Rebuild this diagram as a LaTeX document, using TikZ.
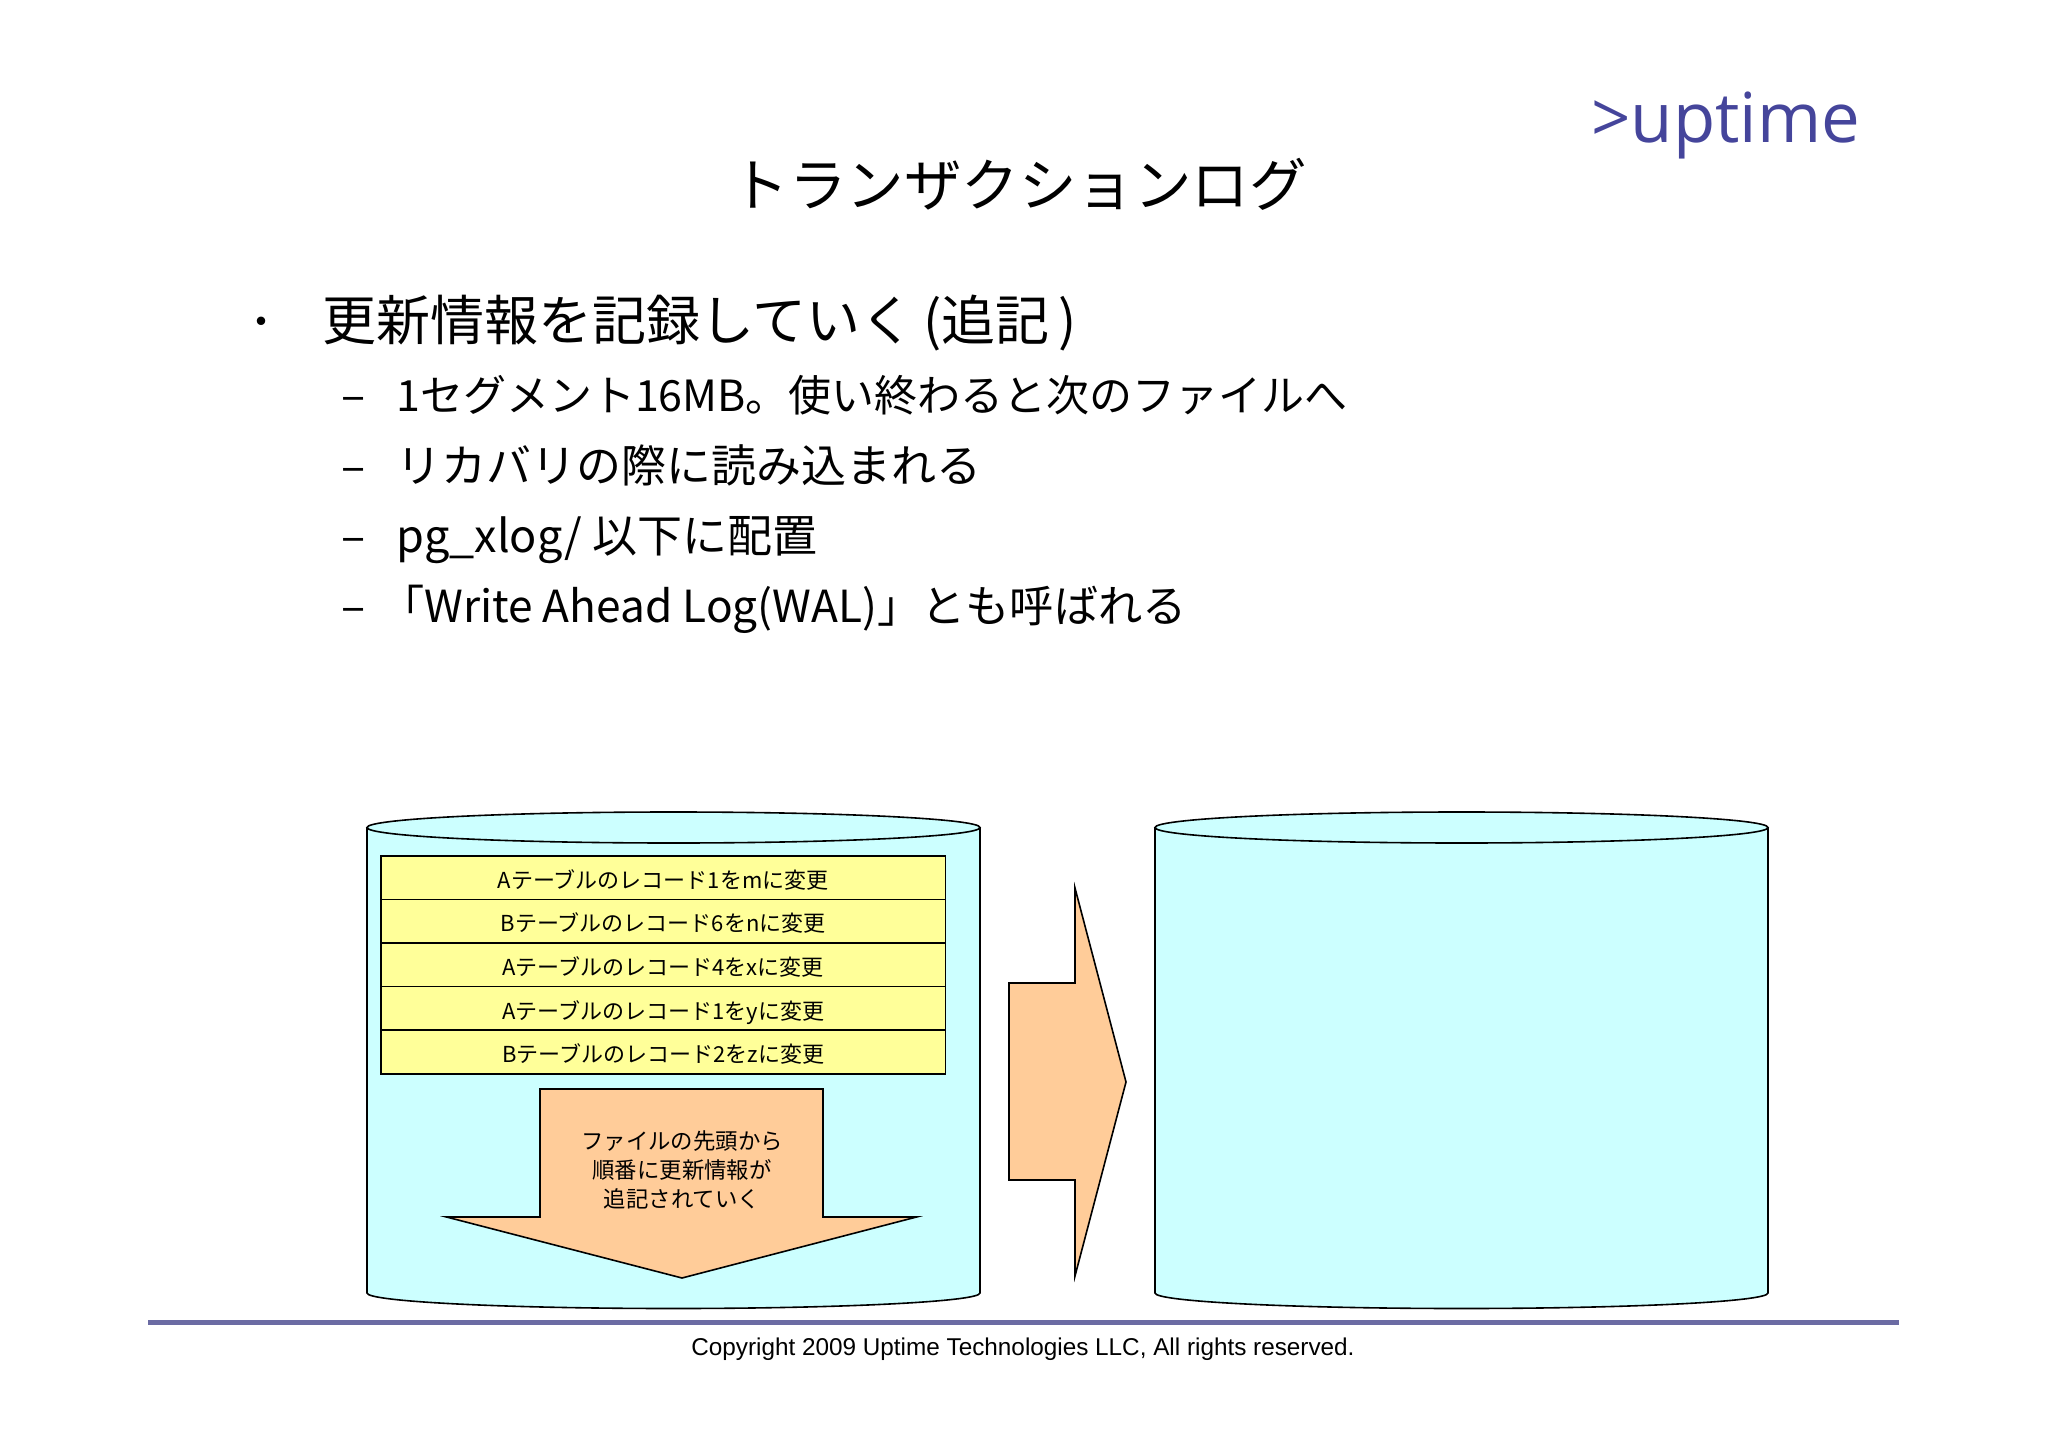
\documentclass[tikz,border=0pt]{standalone}
\usepackage{fontspec}
\setmainfont{Noto Sans CJK JP}
\newfontfamily\copyfont{Liberation Sans}
\newfontfamily\logofont{Open Sans}
\usepackage{tikz}
\usetikzlibrary{positioning}
\definecolor{diskcyan}{HTML}{CCFFFF}
\definecolor{recyellow}{HTML}{FFFF99}
\definecolor{arroworange}{HTML}{FFCC99}
\definecolor{logoblue}{HTML}{45459B}
\definecolor{rulepurple}{HTML}{6B6BA3}

\begin{document}
\begin{tikzpicture}[x=1pt,y=-1pt]
		\tikzstyle{Disk}	= [draw=black, fill=diskcyan, line width=1.6pt]
		\tikzstyle{Shift}	= [draw=black, fill=arroworange, line width=1.6pt, line join=miter]
		\tikzstyle{Record}	= [draw=black, fill=recyellow, line width=1.6pt, minimum width=564.5pt, minimum height=43.6pt, inner sep=0pt, font=\fontsize{22}{26}\selectfont, text height=21.5pt, text depth=0pt]
		\tikzstyle{Title}	= [anchor=base, inner sep=0pt, font=\fontsize{57.5}{60}\selectfont]
		\tikzstyle{First}	= [anchor=base west, inner sep=0pt, font=\fontsize{54}{60}\selectfont]
		\tikzstyle{Second}	= [anchor=base west, inner sep=0pt, font=\fontsize{45}{50}\selectfont]
		\tikzstyle{Note}	= [align=center, inner sep=0pt, font=\fontsize{22.4}{29}\selectfont]

		\useasboundingbox (0,0) rectangle (2048,1447);

		\node (logo) at (1591,143) [anchor=base west, inner sep=0pt, text=logoblue, font=\logofont\fontsize{69}{70}\selectfont] {>uptime};
		\node (title) at (1019,207) [Title] {トランザクションログ};

		\node (bullet) at (261,327) [inner sep=0pt, font=\fontsize{40}{44}\selectfont] {・};
		\node (info) at (322,341) [First] {更新情報を記録していく\,(追記\,)};
		\node (dash0) at (341,411) [Second] {–};
		\node (seg) at (396,411) [Second, font=\fontsize{43}{50}\selectfont] {1セグメント16MB。使い終わると次のファイルへ};
		\node (dash1) at (341,482) [Second] {–};
		\node (recov) at (396,482) [Second] {リカバリの際に読み込まれる};
		\node (dash2) at (341,552) [Second] {–};
		\node (xlog) at (396,552) [Second] {pg\_xlog/\ 以下に配置};
		\node (dash3) at (341,622) [Second] {–};
		\node (wal) at (396,622) [Second, font=\fontsize{44.2}{50}\selectfont] {\hspace{-16pt}「Write Ahead Log(WAL)」とも呼ばれる};

		% left disk
		\draw [Disk] (367,827.5) -- (367,1293) arc[start angle=180, end angle=360, x radius=306.5pt, y radius=15.5pt] -- (980,827.5);
		\draw [Disk] (673.5,827.5) ellipse [x radius=306.5pt, y radius=15.5pt];
		% right disk
		\draw [Disk] (1155,827.5) -- (1155,1293) arc[start angle=180, end angle=360, x radius=306.5pt, y radius=15.5pt] -- (1768,827.5);
		\draw [Disk] (1461.5,827.5) ellipse [x radius=306.5pt, y radius=15.5pt];

		\node (rec0) at (663.2,877.6) [Record] {Aテーブルのレコード1をmに変更};
		\node (rec1) at (663.2,921.2) [Record] {Bテーブルのレコード6をnに変更};
		\node (rec2) at (663.2,964.8) [Record] {Aテーブルのレコード4をxに変更};
		\node (rec3) at (663.2,1008.4) [Record] {Aテーブルのレコード1をyに変更};
		\node (rec4) at (663.2,1052) [Record] {Bテーブルのレコード2をzに変更};

		\draw [Shift] (540,1089) -- (823,1089) -- (823,1217) -- (916.5,1217) -- (682,1278) -- (446.5,1217) -- (540,1217) -- cycle;
		\node (append) at (682,1170) [Note] {ファイルの先頭から\\順番に更新情報が\\追記されていく};

		\draw [Shift] (1009,983) -- (1075,983) -- (1075,888) -- (1126,1082) -- (1075,1276) -- (1075,1180) -- (1009,1180) -- cycle;

		\coordinate (ruleA) at (148,1322);
		\coordinate (ruleB) at (1899,1322);
		\draw [rulepurple, line width=5pt] (ruleA) to (ruleB);
		\node (copy) at (1023,1349.5) [inner sep=0pt, font=\copyfont\fontsize{24.3}{28}\selectfont] {Copyright 2009 Uptime Technologies LLC, All rights reserved.};
	\end{tikzpicture}
\end{document}
